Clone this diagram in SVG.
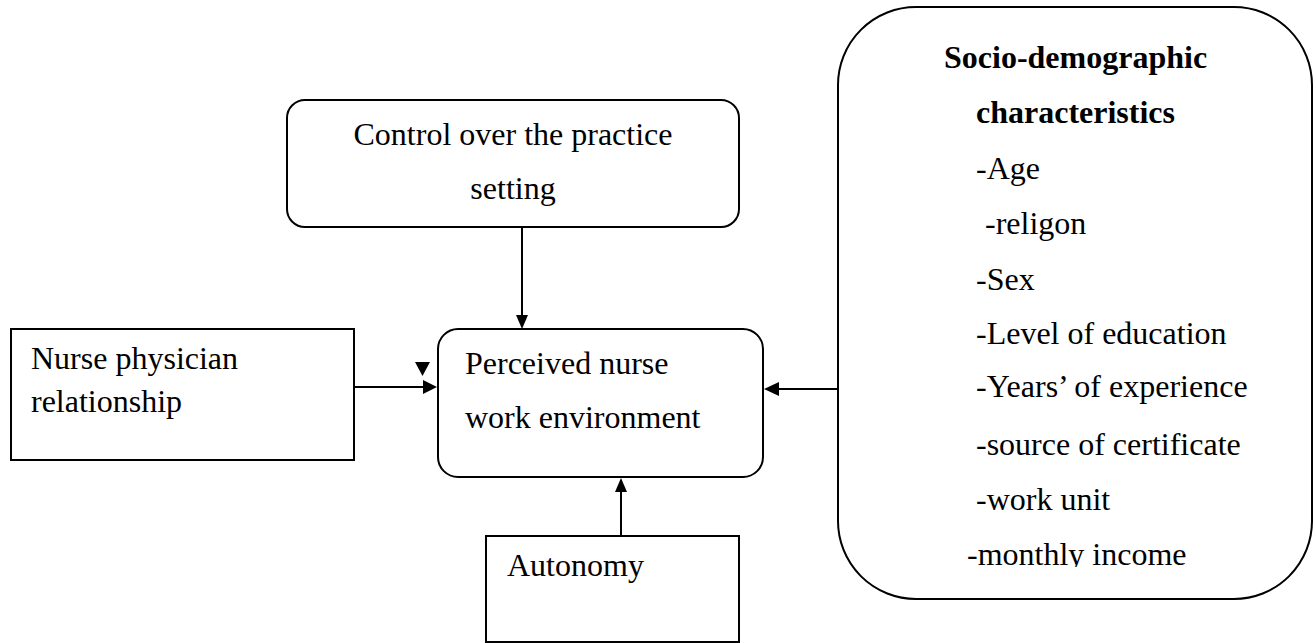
<svg xmlns="http://www.w3.org/2000/svg" width="1316" height="643" viewBox="0 0 1316 643">
<style>
.box{fill:#fff;stroke:#000;stroke-width:2}
.t{font-family:"Liberation Serif","Times New Roman",serif;font-size:32px;fill:#000}
.b{font-weight:bold}
.c{text-anchor:middle}
.ln{stroke:#000;stroke-width:2;fill:none}
.ah{fill:#000}
</style>
<defs>
<clipPath id="clipIncome"><rect x="830" y="0" width="486" height="567"/></clipPath>
</defs>
<rect width="1316" height="643" fill="#fff"/>
<g id="control">
<rect class="box" x="287" y="100" width="452" height="127" rx="18"/>
<text class="t c" x="513" y="145">Control over the practice</text>
<text class="t c" x="513" y="199">setting</text>
</g>
<g id="nurse">
<rect class="box" x="11" y="329" width="343" height="131"/>
<text class="t" x="31" y="369">Nurse physician</text>
<text class="t" x="31" y="412">relationship</text>
</g>
<g id="perceived">
<rect class="box" x="438" y="329" width="325" height="148" rx="20"/>
<text class="t" x="465" y="374">Perceived nurse</text>
<text class="t" x="465" y="428">work environment</text>
</g>
<g id="autonomy">
<rect class="box" x="486" y="536" width="253" height="106"/>
<text class="t" x="507" y="576">Autonomy</text>
</g>
<g id="socio">
<rect class="box" x="838" y="7" width="474" height="592" rx="78"/>
<text class="t b" x="944" y="68">Socio-demographic</text>
<text class="t b" x="976" y="123">characteristics</text>
<text class="t" x="976" y="179">-Age</text>
<text class="t" x="985" y="234">-religon</text>
<text class="t" x="976" y="290">-Sex</text>
<text class="t" x="976" y="344">-Level of education</text>
<text class="t" x="976" y="397">-Years’ of experience</text>
<text class="t" x="976" y="455">-source of certificate</text>
<text class="t" x="976" y="510">-work unit</text>
<text class="t" x="967" y="565" clip-path="url(#clipIncome)">-monthly income</text>
</g>
<g id="connectors">
<line class="ln" x1="522" y1="227" x2="522" y2="318"/>
<polygon class="ah" points="516,315 528,315 522,329"/>
<line class="ln" x1="354" y1="387" x2="424" y2="387"/>
<polygon class="ah" points="423,380 423,394 437,387"/>
<polygon class="ah" points="415,362 430,362 422.5,376"/>
<line class="ln" x1="838" y1="389" x2="776" y2="389"/>
<polygon class="ah" points="779,382 779,396 764,389"/>
<line class="ln" x1="621" y1="536" x2="621" y2="490"/>
<polygon class="ah" points="615,492 627,492 621,478"/>
</g>
</svg>
